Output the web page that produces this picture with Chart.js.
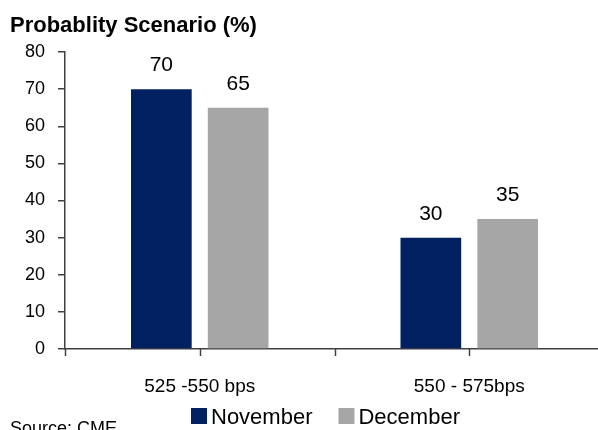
<!DOCTYPE html>
<html>
<head>
<meta charset="utf-8">
<script src="https://cdn.jsdelivr.net/npm/chart.js@4"></script>
<style>
  html, body { margin: 0; padding: 0; background: #fff; overflow: hidden; }
  #wrap { width: 606px; height: 430px; }
</style>
</head>
<body>
<div id="wrap"><canvas id="probChart" width="606" height="430"></canvas></div>
<script>
const categories = ['525 -550 bps', '550 - 575bps'];
const novemberValues = [70, 30];
const decemberValues = [65, 35];
const yTicks = [0, 10, 20, 30, 40, 50, 60, 70, 80];
const titleText = 'Probablity Scenario (%)';
const sourceText = 'Source: CME';

const FONT = "'Liberation Sans', Arial, sans-serif";
const AXIS_COLOR = '#404040';

// valeurs au-dessus des barres, marques de l'axe x, titre, légende, source
const extras = {
  id: 'extras',
  afterDraw(chart) {
    const ctx = chart.ctx;
    const x = chart.scales.x;
    const area = chart.chartArea;
    ctx.save();

    // data labels
    ctx.fillStyle = '#000';
    ctx.font = '21px ' + FONT;
    ctx.textAlign = 'center';
    ctx.textBaseline = 'alphabetic';
    chart.data.datasets.forEach((ds, di) => {
      chart.getDatasetMeta(di).data.forEach((bar, i) => {
        ctx.fillText(String(ds.data[i]), bar.x, bar.y - 18);
      });
    });

    // x axis tick marks (boundaries + centres)
    ctx.strokeStyle = AXIS_COLOR;
    ctx.lineWidth = 1.5;
    const n = categories.length;
    const w = (x.right - x.left) / n;
    const marks = [];
    for (let i = 0; i <= n; i++) marks.push(x.left + i * w);
    for (let i = 0; i < n; i++) marks.push(x.getPixelForValue(i));
    marks.forEach(px => {
      ctx.beginPath();
      ctx.moveTo(Math.round(px) + 0.5, area.bottom);
      ctx.lineTo(Math.round(px) + 0.5, area.bottom + 7);
      ctx.stroke();
    });

    // title
    ctx.textAlign = 'left';
    ctx.font = 'bold 22px ' + FONT;
    ctx.fillText(titleText, 10, 32);

    // legend
    ctx.font = '22px ' + FONT;
    let lx = 191;
    chart.data.datasets.forEach(ds => {
      ctx.fillStyle = ds.backgroundColor;
      ctx.fillRect(lx, 408, 16, 16);
      ctx.fillStyle = '#000';
      ctx.fillText(ds.label, lx + 20, 424);
      lx += 20 + ctx.measureText(ds.label).width + 26;
    });

    // source
    ctx.font = '18px ' + FONT;
    ctx.fillText(sourceText, 10, 434);
    ctx.restore();
  }
};

new Chart(document.getElementById('probChart').getContext('2d'), {
  type: 'bar',
  data: {
    labels: categories,
    datasets: [
      { label: 'November', data: novemberValues, backgroundColor: '#002060',
        barPercentage: 0.79, categoryPercentage: 0.57 },
      { label: 'December', data: decemberValues, backgroundColor: '#A6A6A6',
        barPercentage: 0.79, categoryPercentage: 0.57 }
    ]
  },
  options: {
    responsive: false,
    animation: false,
    layout: { padding: { top: 52, left: 0, right: 2, bottom: 0 } },
    plugins: {
      legend: { display: false },
      title: { display: false },
      tooltip: { enabled: false }
    },
    scales: {
      x: {
        grid: { display: false },
        border: { display: true, color: AXIS_COLOR, width: 1.5 },
        ticks: { color: '#000', font: { size: 19, family: FONT }, padding: 18 },
        afterFit: s => { s.height = 81; }
      },
      y: {
        min: 0,
        max: 80,
        afterBuildTicks: s => { s.ticks = yTicks.map(v => ({ value: v })); },
        grid: { drawOnChartArea: false, tickLength: 7, color: AXIS_COLOR, lineWidth: 1.5 },
        border: { display: true, color: AXIS_COLOR, width: 1.5 },
        ticks: { color: '#000', font: { size: 18, family: FONT }, padding: 13 },
        afterFit: s => { s.width = 65; }
      }
    }
  },
  plugins: [extras]
});
</script>
</body>
</html>
